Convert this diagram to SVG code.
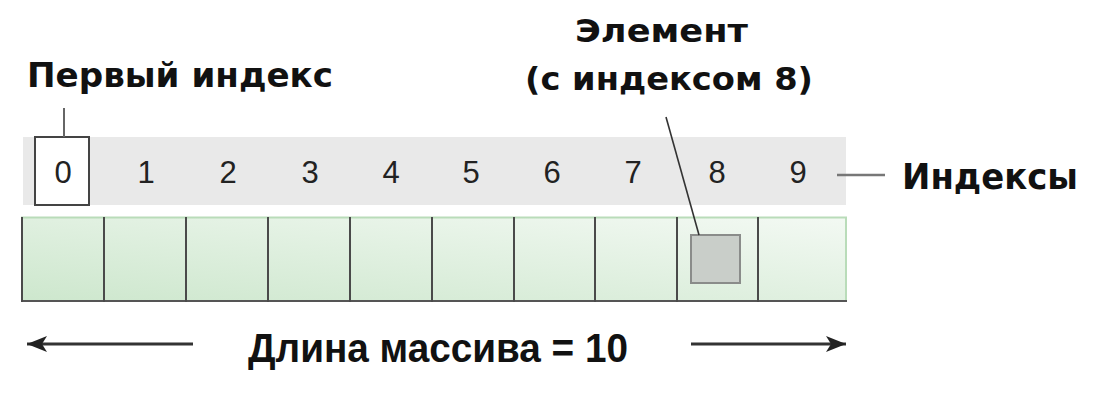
<svg xmlns="http://www.w3.org/2000/svg" width="1103" height="410" viewBox="0 0 1103 410">
  <style>
    .lbl { font-family: "DejaVu Sans", "Liberation Sans", sans-serif; font-weight: bold; fill: #111; }
    .idx { font-family: "Liberation Sans", Arial, sans-serif; font-size: 31px; fill: #222; text-anchor: middle; }
    .cell { fill: url(#cellGrad); stroke: none; }
    .div { stroke: #4a4a4a; stroke-width: 2; }
    .conn { stroke: #333; fill: none; }
  </style>
  <defs>
    <linearGradient id="cellGrad" x1="0" y1="1" x2="1" y2="0">
      <stop offset="0" stop-color="#cde7cd"/>
      <stop offset="1" stop-color="#f3f9f3"/>
    </linearGradient>
    <marker id="arrow" markerUnits="userSpaceOnUse" markerWidth="22" markerHeight="18" refX="20" refY="9" orient="auto">
      <path d="M0,1 L20,9 L0,17 L5,9 Z" fill="#222"/>
    </marker>
  </defs>
  <rect width="1103" height="410" fill="#ffffff"/>

  <g id="index-band">
    <rect x="23" y="137" width="823" height="68" fill="#e9e9e9"/>
  </g>

  <g id="first-index-box">
    <rect x="35" y="137" width="54" height="68" fill="#ffffff" stroke="#444" stroke-width="2"/>
  </g>

  <g id="indices">
    <text class="idx" x="63" y="183">0</text>
    <text class="idx" x="146" y="183">1</text>
    <text class="idx" x="228" y="183">2</text>
    <text class="idx" x="310" y="183">3</text>
    <text class="idx" x="391" y="183">4</text>
    <text class="idx" x="471" y="183">5</text>
    <text class="idx" x="552" y="183">6</text>
    <text class="idx" x="633" y="183">7</text>
    <text class="idx" x="717" y="183">8</text>
    <text class="idx" x="798" y="183">9</text>
  </g>

  <g id="array-cells">
    <rect class="cell" x="21" y="217" width="826" height="85"/>
    <line x1="21" y1="217.5" x2="847" y2="217.5" stroke="#b9dcb9" stroke-width="2"/>
    <line x1="846" y1="217" x2="846" y2="302" stroke="#b9dcb9" stroke-width="2"/>
    <line x1="21" y1="301" x2="847" y2="301" stroke="#555" stroke-width="2"/>
    <line class="div" x1="22" y1="217" x2="22" y2="302"/>
    <line class="div" x1="104" y1="217" x2="104" y2="302"/>
    <line class="div" x1="186" y1="217" x2="186" y2="302"/>
    <line class="div" x1="268" y1="217" x2="268" y2="302"/>
    <line class="div" x1="350" y1="217" x2="350" y2="302"/>
    <line class="div" x1="432" y1="217" x2="432" y2="302"/>
    <line class="div" x1="514" y1="217" x2="514" y2="302"/>
    <line class="div" x1="595" y1="217" x2="595" y2="302"/>
    <line class="div" x1="677" y1="217" x2="677" y2="302"/>
    <line class="div" x1="758" y1="217" x2="758" y2="302"/>
  </g>

  <g id="element-8">
    <rect x="691" y="235" width="49" height="48" fill="#c9cec9" stroke="#8a8c8a" stroke-width="2"/>
  </g>

  <g id="label-first-index">
    <text class="lbl" x="27" y="87" font-size="33" textLength="306" lengthAdjust="spacingAndGlyphs">Первый индекс</text>
  </g>

  <g id="label-element">
    <text class="lbl" x="575" y="42" font-size="32" textLength="173" lengthAdjust="spacingAndGlyphs">Элемент</text>
    <text class="lbl" x="525" y="90" font-size="32" textLength="288" lengthAdjust="spacingAndGlyphs">(с индексом 8)</text>
  </g>

  <g id="label-indices">
    <text class="lbl" x="902" y="189" font-size="35" textLength="176" lengthAdjust="spacingAndGlyphs">Индексы</text>
  </g>

  <g id="label-length">
    <text x="248" y="362" font-family="'Liberation Sans', Arial, sans-serif" font-weight="bold" font-size="40" fill="#111" textLength="380" lengthAdjust="spacingAndGlyphs">Длина массива = 10</text>
  </g>

  <g id="connectors">
    <line x1="64" y1="108" x2="64" y2="137" stroke="#666" stroke-width="2"/>
    <line class="conn" x1="666" y1="117" x2="699" y2="235" stroke-width="1.6"/>
    <line x1="837" y1="175" x2="885" y2="175" stroke="#777" stroke-width="2.5"/>
    <line class="conn" x1="193" y1="344" x2="27" y2="344" stroke-width="3" marker-end="url(#arrow)"/>
    <line class="conn" x1="691" y1="344" x2="846" y2="344" stroke-width="3" marker-end="url(#arrow)"/>
  </g>
</svg>
